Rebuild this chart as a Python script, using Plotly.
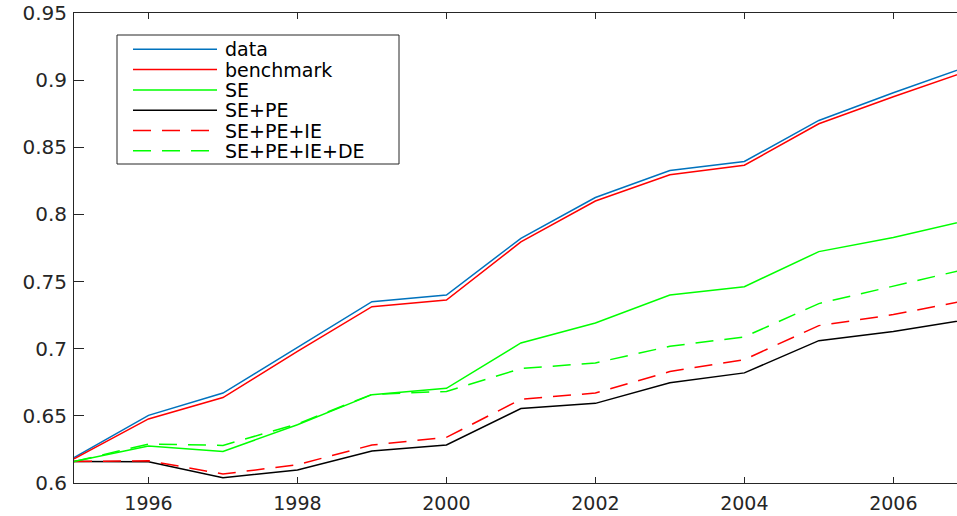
import plotly.graph_objects as go

years = [1995, 1996, 1997, 1998, 1999, 2000, 2001, 2002, 2003, 2004, 2005, 2006, 2007]
data_vals = [0.619, 0.6504, 0.667, 0.701, 0.735, 0.740, 0.7822, 0.8126, 0.8327, 0.8394, 0.870, 0.8906, 0.9102]
benchmark_vals = [0.618, 0.6477, 0.6636, 0.698, 0.7313, 0.7363, 0.7795, 0.810, 0.8295, 0.8366, 0.8675, 0.8876, 0.9068]
se_vals = [0.616, 0.6276, 0.6235, 0.6434, 0.6658, 0.6705, 0.7043, 0.7192, 0.740, 0.7462, 0.7723, 0.7828, 0.7956]
se_pe_vals = [0.616, 0.6159, 0.604, 0.6097, 0.6238, 0.6283, 0.6554, 0.6593, 0.6747, 0.682, 0.706, 0.7128, 0.7217]
se_pe_ie_vals = [0.616, 0.6166, 0.6067, 0.6136, 0.6283, 0.634, 0.6623, 0.667, 0.683, 0.6919, 0.7172, 0.7254, 0.7362]
se_pe_ie_de_vals = [0.616, 0.629, 0.628, 0.644, 0.666, 0.6682, 0.6852, 0.6894, 0.7018, 0.7088, 0.7336, 0.7465, 0.7596]

series_names = ["data", "benchmark", "SE", "SE+PE", "SE+PE+IE", "SE+PE+IE+DE"]
series_values = [data_vals, benchmark_vals, se_vals, se_pe_vals, se_pe_ie_vals, se_pe_ie_de_vals]
series_colors = ["#0072BD", "#FF0000", "#00FF00", "#000000", "#FF0000", "#00FF00"]
series_dash = ["solid", "solid", "solid", "solid", "18px,11px", "18px,11px"]

x_ticks = [1996, 1998, 2000, 2002, 2004, 2006]
y_ticks = [0.6, 0.65, 0.7, 0.75, 0.8, 0.85, 0.9, 0.95]
y_tick_text = ["0.6", "0.65", "0.7", "0.75", "0.8", "0.85", "0.9", "0.95"]

W, H = 957, 516
ML, MT, MB, MR = 74, 13, 33, 0
PW = W - ML - MR
PH = H - MT - MB

def px(x):
    return (x - ML) / PW

def py(y):
    return (H - MB - y) / PH

axis_col = "#262626"
font_family = "DejaVu Sans"

fig = go.Figure()
for name, vals, col, dash in zip(series_names, series_values, series_colors, series_dash):
    fig.add_trace(go.Scatter(x=years, y=vals, mode="lines", name=name,
                             line=dict(color=col, width=1.5, dash=dash),
                             showlegend=False, hoverinfo="skip"))

shapes = []
annotations = []
# legend box
shapes.append(dict(type="rect", xref="paper", yref="paper",
                   x0=px(117), x1=px(399), y0=py(164), y1=py(35),
                   line=dict(color=axis_col, width=1), fillcolor="white", layer="above"))
row_y0, row_dy = 49.3, 20.3
for i, (name, col, dash) in enumerate(zip(series_names, series_colors, series_dash)):
    yy = row_y0 + i * row_dy
    shapes.append(dict(type="line", xref="paper", yref="paper",
                       x0=px(133), x1=px(217), y0=py(yy), y1=py(yy),
                       line=dict(color=col, width=1.5, dash=dash), layer="above"))
    annotations.append(dict(xref="paper", yref="paper", x=px(223), y=py(yy),
                            text=name, showarrow=False, xanchor="left", yanchor="middle",
                            font=dict(family=font_family, size=19, color="#000000")))

fig.update_layout(
    width=W, height=H,
    margin=dict(l=ML, r=MR, t=MT, b=MB, autoexpand=False),
    plot_bgcolor="white", paper_bgcolor="white",
    shapes=shapes, annotations=annotations,
    showlegend=False,
    font=dict(family=font_family, size=20, color=axis_col),
)
fig.update_xaxes(range=[1995, 2006.855], tickvals=x_ticks, ticktext=[str(t) for t in x_ticks],
                 showgrid=False, zeroline=False, showline=True, linecolor=axis_col, linewidth=1,
                 mirror="ticks", ticks="inside", ticklen=6, tickcolor=axis_col, automargin=False,
                 ticklabelstandoff=3, tickfont=dict(family=font_family, size=19, color=axis_col))
fig.update_yaxes(range=[0.6, 0.95], tickvals=y_ticks, ticktext=y_tick_text,
                 showgrid=False, zeroline=False, showline=True, linecolor=axis_col, linewidth=1,
                 mirror=False, ticks="inside", ticklen=10, tickcolor=axis_col, automargin=False,
                 ticklabelstandoff=2, tickfont=dict(family=font_family, size=20, color=axis_col))

fig.write_html("out.html", config={"displayModeBar": False},
               post_script="document.body.style.margin='0';document.body.style.overflow='hidden';")
